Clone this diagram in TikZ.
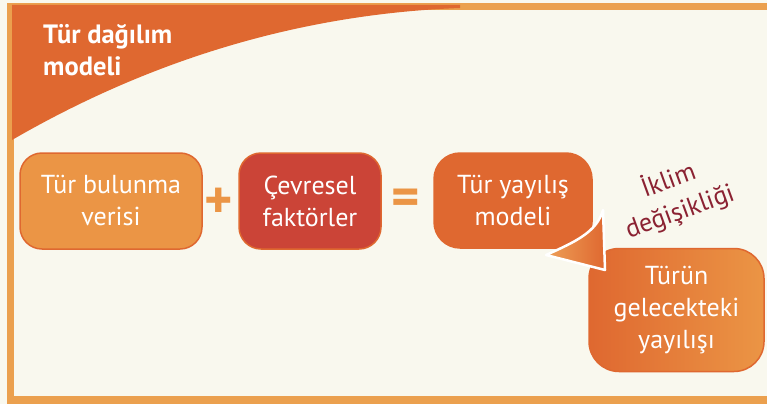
\documentclass[tikz,border=0pt]{standalone}
\usepackage{fontspec}
\setmainfont{PT Sans}
\definecolor{cream}{HTML}{F9F8EE}
\definecolor{framebar}{HTML}{EBA04E}
\definecolor{rust}{HTML}{DF6830}
\definecolor{sand}{HTML}{EB9545}
\definecolor{brick}{HTML}{CB4437}
\definecolor{wine}{HTML}{8B2232}
\tikzset{
  box/.style={rounded corners=22pt, draw=rust, line width=1.5pt, text=white,
    align=center, inner sep=0pt, font=\fontsize{26}{32}\selectfont},
  sign/.style={text=sand, font=\fontsize{54}{54}\selectfont\bfseries, inner sep=0pt}
}
\begin{document}
\begin{tikzpicture}[x=1pt, y=-1pt, line join=round]
		\useasboundingbox (0,0) rectangle (767,404);
		% background and frame
		\fill[cream] (0,0) rectangle (767,404);
		\fill[framebar] (7,3) rectangle (767,10);
		\fill[framebar] (7,3) rectangle (14,404);
		\fill[framebar] (7,396) rectangle (767,404);
		\fill[rust] (12,5) -- (12,140) .. controls (150,60) and (300,14) .. (460,8) -- (460,5) -- cycle;
		\node[anchor=base west, align=left, text=white, inner sep=0pt,
		  font=\fontsize{26.5}{32}\selectfont\bfseries] (title) at (43,75) {Tür dağılım\\modeli};
		% boxes
		\node[box, fill=sand, minimum width=182pt, minimum height=96pt] (data) at (111,201) {Tür bulunma\\verisi};
		\node[box, fill=brick, minimum width=142pt, minimum height=96pt] (env) at (310,201) {Çevresel\\faktörler};
		\node[box, fill=rust, minimum width=158pt, minimum height=95pt, rounded corners=26pt] (model) at (513,200.5) {Tür yayılış\\modeli};
		\node[box, left color=rust, right color=sand, minimum width=175pt, minimum height=123pt, rounded corners=30pt] (future) at (676.5,310) {Türün\\gelecekteki\\yayılışı};
		\node[sign] (plus) at (219,203) {+};
		\node[sign] (equal) at (406,202) {=};
		% tail from model to future
		\coordinate (tailL) at (546,255);
		\coordinate (tailT) at (603,210);
		\coordinate (tailB) at (605,270);
		\shade[left color=sand!90!white, right color=rust, draw=white, line width=2.5pt]
		  (tailL) .. controls (575,242) and (597,232) .. (tailT) -- (tailB) -- cycle;
		\node[text=wine, rotate=20, align=center, inner sep=0pt,
		  font=\fontsize{26}{33}\selectfont] (climate) at (674,196) {İklim\\değişikliği};
\end{tikzpicture}
\end{document}
